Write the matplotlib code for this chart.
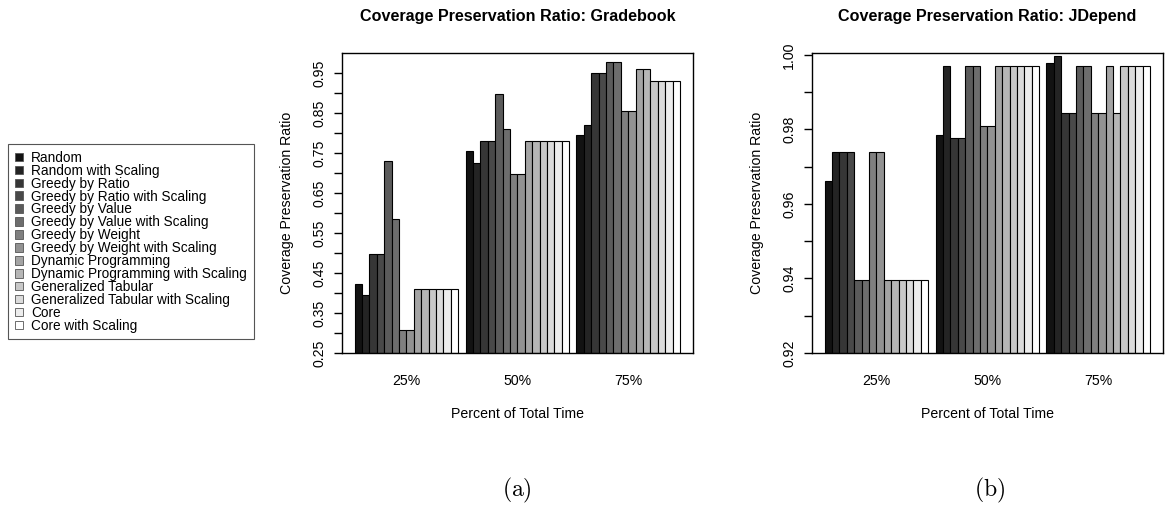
import matplotlib
matplotlib.use("Agg")
import matplotlib.pyplot as plt
import matplotlib.patches as mpatches
import numpy as np

plt.rcParams['font.family'] = ['Liberation Sans', 'DejaVu Sans']
plt.rcParams['mathtext.fontset'] = 'cm'

methods = ["Random", "Random with Scaling", "Greedy by Ratio",
           "Greedy by Ratio with Scaling", "Greedy by Value",
           "Greedy by Value with Scaling", "Greedy by Weight",
           "Greedy by Weight with Scaling", "Dynamic Programming",
           "Dynamic Programming with Scaling", "Generalized Tabular",
           "Generalized Tabular with Scaling", "Core", "Core with Scaling"]
groups = ["25%", "50%", "75%"]

# gradebook, one row per time budget
gradebook_25 = [0.422, 0.394, 0.498, 0.498, 0.731, 0.585, 0.308, 0.308,
                0.409, 0.409, 0.409, 0.409, 0.409, 0.409]
gradebook_50 = [0.754, 0.726, 0.779, 0.779, 0.897, 0.810, 0.698, 0.698,
                0.779, 0.779, 0.779, 0.779, 0.779, 0.779]
gradebook_75 = [0.796, 0.820, 0.951, 0.951, 0.978, 0.978, 0.856, 0.856,
                0.959, 0.959, 0.929, 0.929, 0.929, 0.929]

jdepend_25 = [0.9662, 0.9739, 0.9739, 0.9739, 0.9395, 0.9395, 0.9739, 0.9739,
              0.9395, 0.9395, 0.9395, 0.9395, 0.9395, 0.9395]
jdepend_50 = [0.9784, 0.9971, 0.9777, 0.9777, 0.9971, 0.9971, 0.9808, 0.9808,
              0.9971, 0.9971, 0.9971, 0.9971, 0.9971, 0.9971]
jdepend_75 = [0.9979, 0.9998, 0.9843, 0.9843, 0.9971, 0.9971, 0.9843, 0.9843,
              0.9971, 0.9843, 0.9971, 0.9971, 0.9971, 0.9971]

grays = [str(g) for g in np.linspace(0.07, 1.0, len(methods))]
FS = 10.2


def barplot(ax, rows, ylim, yticks, ylabels, title):
    n = len(methods)
    for gi, row in enumerate(rows):
        # R style: one unit of space before each group
        left = gi * (n + 1) + 1
        for i, v in enumerate(row):
            ax.bar(left + i, v - ylim[0], width=1, bottom=ylim[0], align='edge',
                   color=grays[i], edgecolor='black', linewidth=0.8)
    total = len(rows) * (n + 1)
    pad = 0.04 * (total - 1)
    ax.set_xlim(1 - pad, total + pad)
    ax.set_ylim(*ylim)
    ax.set_xticks([gi * (n + 1) + 1 + n / 2 for gi in range(len(rows))])
    ax.set_xticklabels(groups, fontsize=FS)
    ax.tick_params(axis='x', length=0, pad=15)
    ax.set_yticks(yticks)
    ax.set_yticklabels(ylabels, rotation=90, va='center', fontsize=FS)
    ax.tick_params(axis='y', length=6, width=1, pad=5)
    for s in ax.spines.values():
        s.set_linewidth(1)
    ax.set_xlabel("Percent of Total Time", fontsize=FS, labelpad=14)
    ax.set_ylabel("Coverage Preservation Ratio", fontsize=FS, labelpad=13)
    ax.set_title(title, fontsize=11.6, fontweight='bold', pad=23)


fig = plt.figure(figsize=(11.67, 5.11), dpi=100)
ax1 = fig.add_axes([0.2928, 0.3092, 0.3010, 0.5871])
ax2 = fig.add_axes([0.6955, 0.3092, 0.3011, 0.5871])

g_ticks = np.arange(0.25, 0.951, 0.05)
g_labels = ["%.2f" % t if i % 2 == 0 else "" for i, t in enumerate(g_ticks)]
barplot(ax1, [gradebook_25, gradebook_50, gradebook_75], (0.25, 1.0),
        g_ticks, g_labels, "Coverage Preservation Ratio: Gradebook")

j_ticks = np.arange(0.92, 1.0001, 0.01)
j_labels = ["%.2f" % t if i % 2 == 0 else "" for i, t in enumerate(j_ticks)]
barplot(ax2, [jdepend_25, jdepend_50, jdepend_75], (0.92, 1.0005),
        j_ticks, j_labels, "Coverage Preservation Ratio: JDepend")

handles = [mpatches.Patch(facecolor=grays[i], edgecolor='#555555', linewidth=0.6,
                          label=m) for i, m in enumerate(methods)]
leg = fig.legend(handles=handles, loc='upper left',
                 bbox_to_anchor=(8 / 1167, 1 - 144 / 511), fontsize=9.8,
                 handlelength=0.6, handleheight=0.6, handletextpad=0.6,
                 labelspacing=-0.08, borderpad=0.5, borderaxespad=0,
                 fancybox=False, framealpha=1)
leg.get_frame().set_edgecolor('#555555')
leg.get_frame().set_linewidth(0.8)

fig.text(517 / 1167, 1 - 490 / 511, r'$\mathrm{(a)}$', ha='center', va='center', fontsize=17)
fig.text(990 / 1167, 1 - 490 / 511, r'$\mathrm{(b)}$', ha='center', va='center', fontsize=17)

fig.savefig("out.png", dpi=100)
